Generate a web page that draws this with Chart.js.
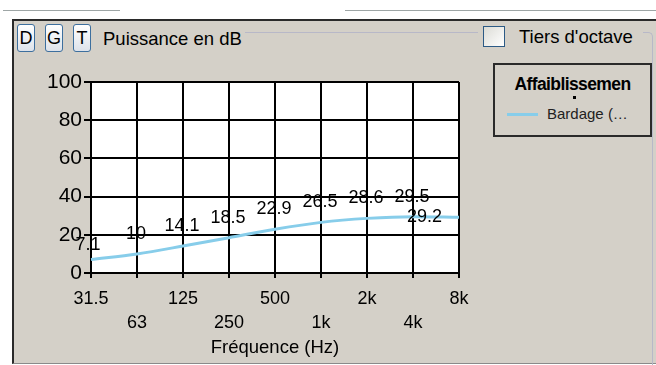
<!DOCTYPE html>
<html>
<head>
<meta charset="utf-8">
<script src="https://cdn.jsdelivr.net/npm/chart.js@4.4.0/dist/chart.umd.min.js"></script>
<style>
  body { margin:0; width:656px; height:365px; background:#fff; position:relative; overflow:hidden;
         font-family:'Liberation Sans', Arial, sans-serif; color:#000; }
  .abs { position:absolute; }
  .topline { top:10px; height:1px; background:#9ea6a6; }
  #panel { left:12px; top:19px; width:660px; height:342px; background:#d4d0c8;
           border-top:2px solid #2a2a2a; border-left:2px solid #2a2a2a; border-bottom:1px solid #8a8a8a; }
  #group { left:245px; top:32px; width:407px; height:400px; border-top:1px solid #b8b8c8;
           border-right:1px solid #b8b8c8; border-top-right-radius:5px; }
  .btn { top:24px; width:16px; height:26px; border:1px solid #3d6f9e; border-radius:3px;
         background:linear-gradient(#ffffff, #dde2ea); font-size:18px; line-height:26px; text-align:center; }
  #title { left:103px; top:28px; font-size:18.5px; line-height:22px; }
  #tiers { left:478px; top:24px; width:165px; height:26px; background:#d4d0c8; }
  #check { left:483px; top:26px; width:20px; height:19px; border:1px solid #2c5a85;
           background:linear-gradient(135deg, #dcdcd6, #ffffff); }
  #tiersTxt { left:519px; top:26px; font-size:18.5px; line-height:22px; }
  #legend { left:493px; top:63px; width:155px; height:70px; border:2px solid #2a2a2a; }
  #legTitle { left:0; top:9px; width:155px; text-align:center; font-weight:bold; font-size:17.5px; letter-spacing:-0.6px; }
  #legDot { left:78px; top:31px; width:3px; height:3px; background:#000; }
  #legLine { left:12px; top:48px; width:31px; height:3px; }
  #legTxt { left:52px; top:40px; font-size:15px; line-height:18px; color:#222; }
  canvas { position:absolute; left:0; top:0; }
</style>
</head>
<body>
<div class="abs topline" style="left:3px;width:117px"></div>
<div class="abs topline" style="left:345px;width:311px"></div>
<div class="abs" id="panel"></div>
<div class="abs" id="group"></div>
<div class="abs btn" style="left:17px">D</div>
<div class="abs btn" style="left:45px">G</div>
<div class="abs btn" style="left:73px">T</div>
<div class="abs" id="title">Puissance en dB</div>
<div class="abs" id="tiers"></div>
<div class="abs" id="check"></div>
<div class="abs" id="tiersTxt">Tiers d'octave</div>
<div class="abs" id="legend">
  <div class="abs" id="legTitle"></div>
  <div class="abs" id="legDot"></div>
  <div class="abs" id="legLine"></div>
  <div class="abs" id="legTxt"></div>
</div>
<canvas id="chart" width="656" height="365"></canvas>
<script>
const frequencies = ['31.5', '63', '125', '250', '500', '1k', '2k', '4k', '8k'];
const attenuation = [7.1, 10, 14.1, 18.5, 22.9, 26.5, 28.6, 29.5, 29.2];
const yTicks = [0, 20, 40, 60, 80, 100];
const legendTitle = 'Affaiblissemen';
const seriesName = 'Bardage (\u2026';
const lineColor = '#87cdea';
const font = "'Liberation Sans', Arial, sans-serif";

document.getElementById('legTitle').textContent = legendTitle;
document.getElementById('legTxt').textContent = seriesName;
document.getElementById('legLine').style.background = lineColor;

// fond blanc de la zone de tracé
const whiteArea = {
    id: 'whiteArea',
    beforeDraw(chart) {
        const a = chart.chartArea, ctx = chart.ctx;
        ctx.save();
        ctx.fillStyle = '#fff';
        ctx.fillRect(a.left, a.top, a.right - a.left, a.bottom - a.top);
        ctx.restore();
    }
};

// étiquettes de valeurs au-dessus des points
const valueLabels = {
    id: 'valueLabels',
    afterDatasetsDraw(chart) {
        const ctx = chart.ctx;
        const pts = chart.getDatasetMeta(0).data;
        const vals = chart.data.datasets[0].data;
        ctx.save();
        ctx.font = '18px ' + font;
        ctx.fillStyle = '#000';
        ctx.textBaseline = 'middle';
        pts.forEach((p, i) => {
            let x = p.x - 1, y = p.y - 20;
            ctx.textAlign = 'center';
            if (i === 0) { x = p.x - 3; y = p.y - 14; }
            if (i === pts.length - 1) { ctx.textAlign = 'right'; x = p.x - 17; y = p.y; }
            ctx.fillText(String(vals[i]), x, y);
        });
        ctx.restore();
    }
};

new Chart(document.getElementById('chart'), {
    type: 'line',
    data: {
        labels: frequencies,
        datasets: [{
            label: seriesName,
            data: attenuation,
            borderColor: lineColor,
            borderWidth: 3,
            pointRadius: 0,
            cubicInterpolationMode: 'monotone',
            fill: false,
        }],
    },
    options: {
        responsive: false,
        animation: false,
        devicePixelRatio: 1,
        layout: { padding: { left: 0, top: 82, right: 197, bottom: 0 } },
        plugins: { legend: { display: false }, tooltip: { enabled: false } },
        scales: {
            x: {
                offset: false,
                afterFit(s) { s.height = 92; },
                grid: { color: '#000', lineWidth: 2, tickLength: 5 },
                border: { color: '#000', width: 2 },
                ticks: {
                    autoSkip: false, maxRotation: 0, padding: 9, color: '#000',
                    font: { family: font, size: 18, lineHeight: 1.333 },
                    callback(v, i) { return i % 2 === 0 ? [frequencies[i], ''] : ['', frequencies[i]]; },
                },
                title: {
                    display: true, text: 'Fréquence (Hz)', color: '#000',
                    font: { family: font, size: 18.5 }, padding: { top: 0, bottom: 6 },
                },
            },
            y: {
                min: yTicks[0], max: yTicks[yTicks.length - 1],
                afterFit(s) { s.width = 91; },
                afterBuildTicks(s) { s.ticks = yTicks.map(v => ({ value: v })); },
                grid: { color: '#000', lineWidth: 2, tickLength: 7 },
                border: { color: '#000', width: 2 },
                ticks: { padding: 2, color: '#000', font: { family: font, size: 21 } },
            },
        },
    },
    plugins: [whiteArea, valueLabels],
});
</script>
</body>
</html>
